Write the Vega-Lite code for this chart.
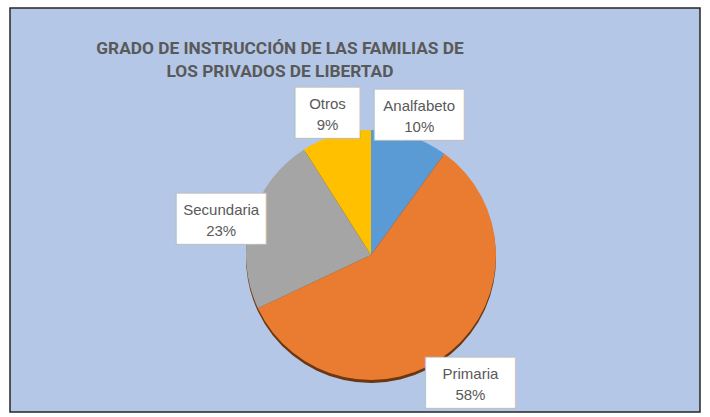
{
  "$schema": "https://vega.github.io/schema/vega-lite/v6.json",
  "width": 710,
  "height": 417,
  "autosize": {"type": "fit", "contains": "padding"},
  "padding": {"top": 8, "left": 10, "right": 10, "bottom": 5},
  "background": "white",
  "view": {"fill": "#b4c7e7", "stroke": "#262626", "strokeWidth": 1.5},
  "title": {
    "text": ["GRADO DE INSTRUCCIÓN DE LAS FAMILIAS DE", "LOS PRIVADOS DE LIBERTAD"],
    "font": "Liberation Sans Narrow, Roboto, Liberation Sans",
    "fontSize": 17.3,
    "fontWeight": "bold",
    "color": "#595959",
    "offset": -72,
    "dx": -75,
    "lineHeight": 23,
    "anchor": "middle"
  },
  "data": {
    "values": [
      {"n": 1, "category": "Analfabeto", "pct": 10},
      {"n": 2, "category": "Primaria", "pct": 58},
      {"n": 3, "category": "Secundaria", "pct": 23},
      {"n": 4, "category": "Otros", "pct": 9}
    ]
  },
  "transform": [
    {"calculate": "datum.category + '\\n' + datum.pct + '%'", "as": "label"},
    {"calculate": "length(datum.category) > 6 ? '███▌' : '██▌'", "as": "box"}
  ],
  "encoding": {
    "theta": {"field": "pct", "type": "quantitative", "stack": true},
    "order": {"field": "n", "type": "quantitative"}
  },
  "layer": [
    {
      "mark": {"type": "arc", "radius": 125, "fill": "#6b3712", "xOffset": 16, "yOffset": 48}
    },
    {
      "mark": {"type": "arc", "radius": 125, "xOffset": 16, "yOffset": 45},
      "encoding": {
        "color": {
          "field": "category",
          "type": "nominal",
          "scale": {
            "domain": ["Analfabeto", "Primaria", "Secundaria", "Otros"],
            "range": ["#5b9bd5", "#e97c30", "#a5a5a5", "#ffc000"]
          },
          "legend": null
        }
      }
    },
    {
      "mark": {"type": "text", "radius": 156, "xOffset": 16, "yOffset": 44, "dx": 6.3, "dy": 10, "font": "DejaVu Sans Mono", "fontSize": 42, "fill": "white", "stroke": "#bfbfbf", "strokeWidth": 2, "baseline": "middle", "align": "center"},
      "encoding": {"text": {"field": "box"}}
    },
    {
      "mark": {"type": "text", "radius": 156, "xOffset": 16, "yOffset": 44, "dx": 6.3, "dy": 10, "font": "DejaVu Sans Mono", "fontSize": 42, "fill": "white", "baseline": "middle", "align": "center"},
      "encoding": {"text": {"field": "box"}}
    },
    {
      "mark": {"type": "text", "radius": 156, "xOffset": 16, "yOffset": 44, "font": "Liberation Sans", "fontSize": 15, "fill": "#595959", "lineBreak": "\n", "lineHeight": 21, "baseline": "middle", "align": "center"},
      "encoding": {"text": {"field": "label"}}
    }
  ]
}
